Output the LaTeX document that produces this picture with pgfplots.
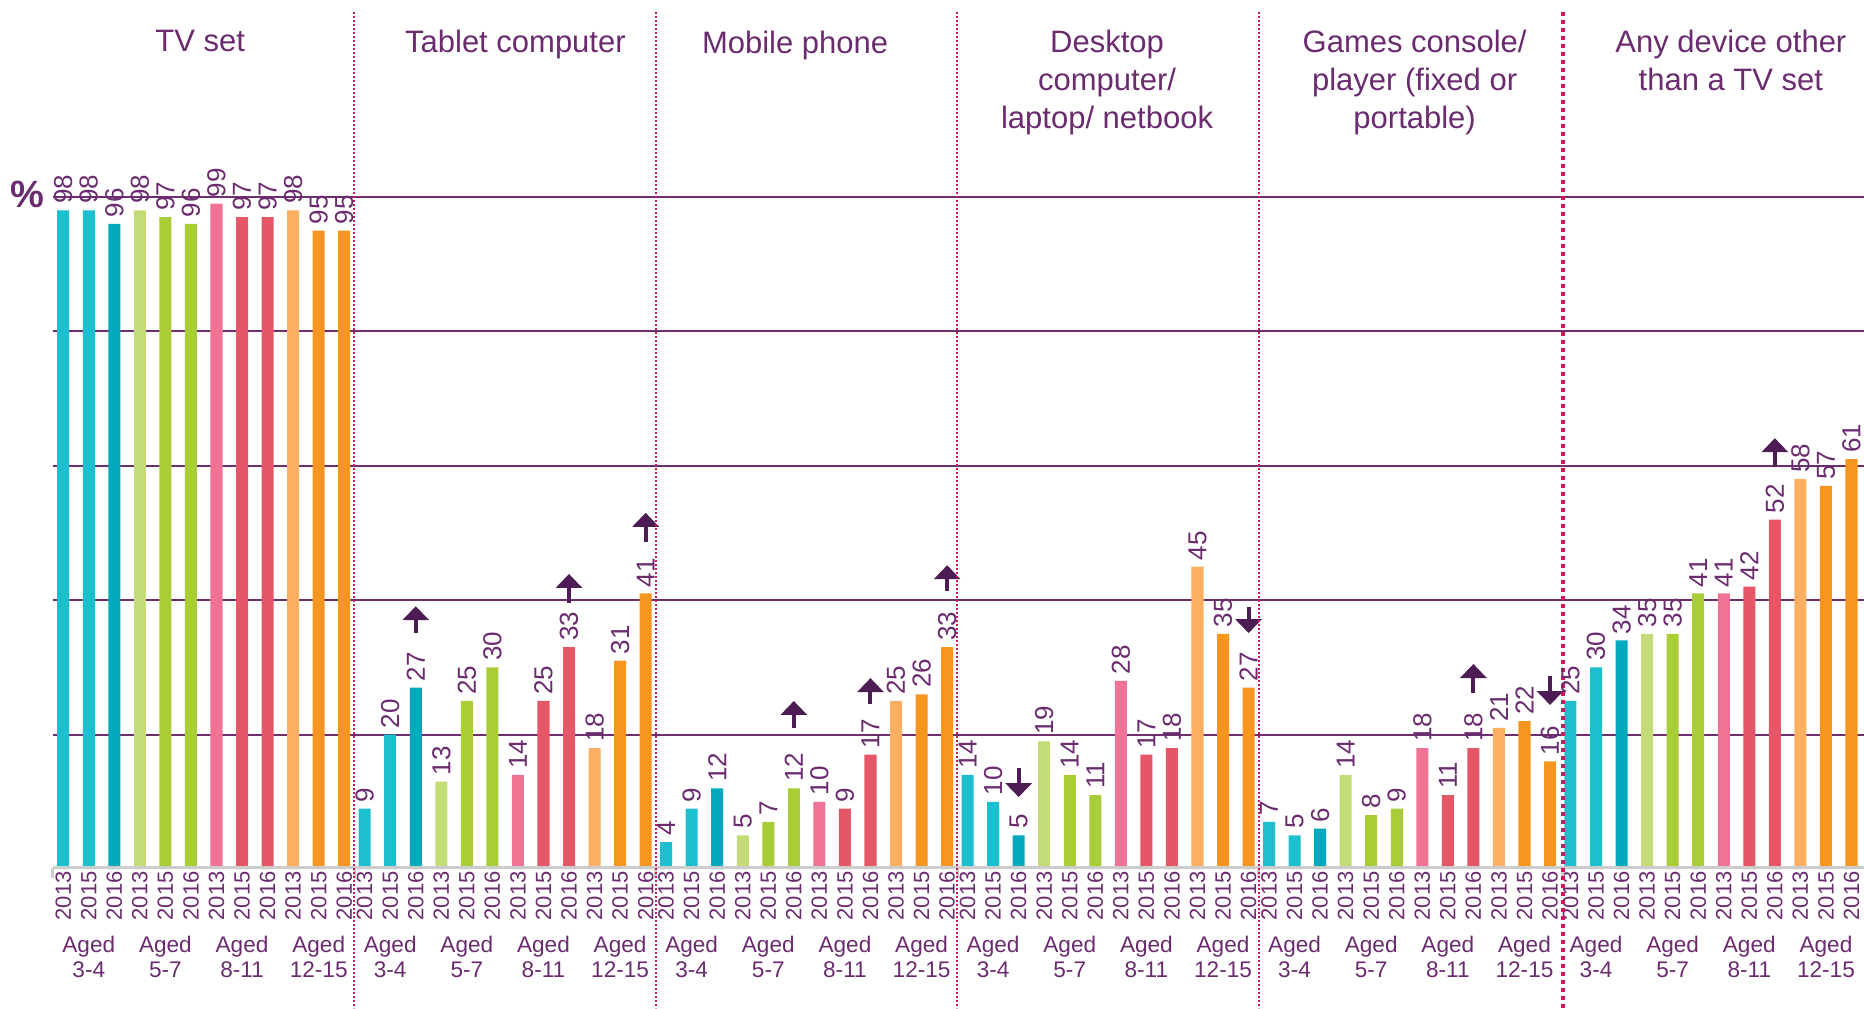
\documentclass[border=0pt]{standalone}
\usepackage{fontspec}
\setmainfont{Liberation Sans}
\usepackage{pgfplots}
\pgfplotsset{compat=1.18}
\usetikzlibrary{arrows.meta}

\definecolor{cyanL}{HTML}{1CBFCE}
\definecolor{tealD}{HTML}{00AABC}
\definecolor{greenL}{HTML}{C3DC78}
\definecolor{greenD}{HTML}{A9CD37}
\definecolor{pinkL}{HTML}{F07395}
\definecolor{redD}{HTML}{E55667}
\definecolor{orangeL}{HTML}{FCAF61}
\definecolor{orangeD}{HTML}{F6951F}
\definecolor{txtpurple}{HTML}{6B2B6F}
\definecolor{gridpurple}{HTML}{6E2F6E}
\definecolor{arrowpurple}{HTML}{4E1C55}
\definecolor{sepred}{HTML}{D4145A}

\tikzset{
  upar/.style={-{Triangle[width=13pt,length=7pt]}, line width=2pt, arrowpurple},
  sep/.style={sepred, line width=1pt, dash pattern=on 1pt off 1pt},
  age/.style={anchor=north, align=center, inner sep=0pt, text=txtpurple,
        font=\fontsize{11.3}{12.5}\selectfont},
  ttl/.style={anchor=north, align=center, inner sep=0pt, text=txtpurple,
        font=\fontsize{15.5}{19}\selectfont},
}

\begin{document}
\begin{tikzpicture}
\useasboundingbox (0,0) rectangle (932pt,504pt);
\begin{axis}[
    at={(26.5pt,69.5pt)}, anchor=south west,
    scale only axis,
    width=905.5pt, height=434.5pt,
    xmin=-0.4, xmax=70.49,
    ymin=0, ymax=129.3,
    clip=false,
    axis line style={draw=none},
    tick style={draw=none},
    ytick={20,40,60,80,100},
    yticklabels={},
    ymajorgrids,
    grid style={gridpurple, line width=1pt},
    xtick={0,1,2,3,4,5,6,7,8,9,10,11,
           11.8,12.8,13.8,14.8,15.8,16.8,17.8,18.8,19.8,20.8,21.8,22.8,
           23.6,24.6,25.6,26.6,27.6,28.6,29.6,30.6,31.6,32.6,33.6,34.6,
           35.4,36.4,37.4,38.4,39.4,40.4,41.4,42.4,43.4,44.4,45.4,46.4,
           47.2,48.2,49.2,50.2,51.2,52.2,53.2,54.2,55.2,56.2,57.2,58.2,
           59,60,61,62,63,64,65,66,67,68,69,70},
    xticklabels={2013,2015,2016,2013,2015,2016,2013,2015,2016,2013,2015,2016,
                 2013,2015,2016,2013,2015,2016,2013,2015,2016,2013,2015,2016,
                 2013,2015,2016,2013,2015,2016,2013,2015,2016,2013,2015,2016,
                 2013,2015,2016,2013,2015,2016,2013,2015,2016,2013,2015,2016,
                 2013,2015,2016,2013,2015,2016,2013,2015,2016,2013,2015,2016,
                 2013,2015,2016,2013,2015,2016,2013,2015,2016,2013,2015,2016},
    xticklabel style={rotate=90, anchor=east, inner sep=1pt,
                      font=\fontsize{11}{11}\selectfont, text=txtpurple},
    /pgf/number format/assume math mode=true,
    every axis plot/.append style={ybar, bar width=0.47, bar shift=0pt, draw=none},
    nodes near coords,
    every node near coord/.append style={rotate=90, anchor=west, inner sep=3pt,
                      font=\fontsize{13}{13}\selectfont, text=txtpurple},
]

% 3-4 year olds
\addplot[fill=cyanL] coordinates {(0,98)(1,98)(11.8,9)(12.8,20)(23.6,4)(24.6,9)
    (35.4,14)(36.4,10)(47.2,7)(48.2,5)(59,25)(60,30)};
\addplot[fill=tealD] coordinates {(2,96)(13.8,27)(25.6,12)(37.4,5)(49.2,6)(61,34)};
% 5-7
\addplot[fill=greenL] coordinates {(3,98)(14.8,13)(26.6,5)(38.4,19)(50.2,14)(62,35)};
\addplot[fill=greenD] coordinates {(4,97)(5,96)(15.8,25)(16.8,30)(27.6,7)(28.6,12)
    (39.4,14)(40.4,11)(51.2,8)(52.2,9)(63,35)(64,41)};
% 8-11
\addplot[fill=pinkL] coordinates {(6,99)(17.8,14)(29.6,10)(41.4,28)(53.2,18)(65,41)};
\addplot[fill=redD] coordinates {(7,97)(8,97)(18.8,25)(19.8,33)(30.6,9)(31.6,17)
    (42.4,17)(43.4,18)(54.2,11)(55.2,18)(66,42)(67,52)};
% 12-15
\addplot[fill=orangeL] coordinates {(9,98)(20.8,18)(32.6,25)(44.4,45)(56.2,21)(68,58)};
\addplot[fill=orangeD] coordinates {(10,95)(11,95)(21.8,31)(22.8,41)(33.6,26)(34.6,33)
    (45.4,35)(46.4,27)(57.2,22)(58.2,16)(69,57)(70,61)};

% baseline and group ticks
\draw[black!20, line width=1.5pt] (axis cs:-0.4,0.2) -- (axis cs:70.49,0.2);
\pgfplotsinvokeforeach{-0.4,11.4,23.2,35.0,46.8,58.7}{
  \draw[black!20, line width=1.5pt] (axis cs:#1,0.2) -- (axis cs:#1,-1.3);
}

% significance arrows
\draw[upar] (axis cs:13.8,35.1) -- (axis cs:13.8,39.1);
\draw[upar] (axis cs:19.8,39.6) -- (axis cs:19.8,43.9);
\draw[upar] (axis cs:22.8,48.7) -- (axis cs:22.8,53);
\draw[upar] (axis cs:28.6,21) -- (axis cs:28.6,25);
\draw[upar] (axis cs:31.6,24.6) -- (axis cs:31.6,28.4);
\draw[upar] (axis cs:34.6,41.4) -- (axis cs:34.6,45.2);
\draw[upar] (axis cs:37.4,15) -- (axis cs:37.4,10.7);
\draw[upar] (axis cs:46.4,39) -- (axis cs:46.4,35.1);
\draw[upar] (axis cs:55.2,26.2) -- (axis cs:55.2,30.5);
\draw[upar] (axis cs:58.2,28.7) -- (axis cs:58.2,24.4);
\draw[upar] (axis cs:67,59.8) -- (axis cs:67,64.1);

% separators
\pgfplotsinvokeforeach{11.4,23.2,35.0,46.8}{
  \draw[sep] (axis cs:#1,127.5) -- (axis cs:#1,-20.7);
}
\draw[sepred, line width=2pt, dash pattern=on 2pt off 2pt] (axis cs:58.7,127.5) -- (axis cs:58.7,-20.7);

% age labels
\pgfplotsinvokeforeach{0,11.8,23.6,35.4,47.2,59}{
  \node[age] at (axis cs:#1+1,-10.0) {Aged\\3-4};
  \node[age] at (axis cs:#1+4,-10.0) {Aged\\5-7};
  \node[age] at (axis cs:#1+7,-10.0) {Aged\\8-11};
  \node[age] at (axis cs:#1+10,-10.0) {Aged\\12-15};
}

% group titles
\node[ttl] at (axis cs:5.36,124.85) {TV set};
\node[ttl] at (axis cs:17.7,124.95) {Tablet computer};
\node[ttl] at (axis cs:28.65,124.75) {Mobile phone};
\node[ttl] at (axis cs:40.86,124.95) {Desktop\\computer/\\laptop/ netbook};
\node[ttl] at (axis cs:52.9,124.95) {Games console/\\player (fixed or\\portable)};
\node[ttl] at (axis cs:65.28,124.95) {Any device other\\than a TV set};

\node[text=txtpurple, font=\fontsize{19}{19}\selectfont\bfseries, inner sep=0pt]
  at (axis cs:-1.41,100.4) {\%};
\end{axis}
\end{tikzpicture}
\end{document}
